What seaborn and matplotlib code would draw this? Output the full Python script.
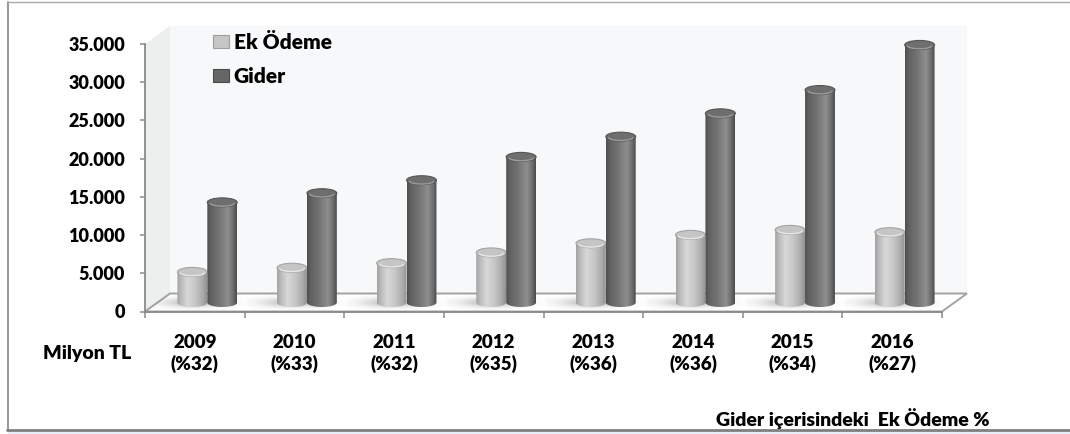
import numpy as np
import pandas as pd
import matplotlib
matplotlib.use("Agg")
import matplotlib.pyplot as plt
import seaborn as sns
from matplotlib.patches import Polygon, Ellipse, Rectangle, Patch, Arc
from matplotlib.colors import LinearSegmentedColormap
from matplotlib.lines import Line2D

# ---- data (million TL) ----
years = ["2009", "2010", "2011", "2012", "2013", "2014", "2015", "2016"]
shares = ["%32", "%33", "%32", "%35", "%36", "%36", "%34", "%27"]
ek_odeme = [4000, 4550, 5150, 6550, 7750, 8850, 9500, 9200]
gider = [13100, 14300, 16000, 19050, 21700, 24750, 27800, 33700]
series_names = ["Ek Ödeme", "Gider"]
y_ticks = [0, 5000, 10000, 15000, 20000, 25000, 30000, 35000]
y_tick_labels = ["0", "5.000", "10.000", "15.000", "20.000", "25.000", "30.000", "35.000"]
unit_label = "Milyon TL"
share_label = "Gider içerisindeki  Ek Ödeme %"

sns.set_theme(style="white")
plt.rcParams["font.family"] = ["Lato", "DejaVu Sans"]
plt.rcParams["text.color"] = "black"
WEIGHT = "heavy"

W, H = 1070, 434
fig = plt.figure(figsize=(W / 100, H / 100), dpi=100)
fig.patch.set_facecolor("white")


def fx(px):
    return px / W


def fy(py):
    return 1 - py / H


X0, X1, Y0, Y1 = 145, 942, 311.5, 44
ax = fig.add_axes([fx(X0), fy(Y0), (X1 - X0) / W, (Y0 - Y1) / H])
ax.patch.set_alpha(0)

n = len(years)
ymax = 35000
ux = n / (X1 - X0)          # category units per pixel
uy = ymax / (Y0 - Y1)       # value units per pixel
DX, DY = 25 * ux, 18 * uy   # oblique depth of the plot box

labels = [f"{y}\n({s})" for y, s in zip(years, shares)]
df = pd.DataFrame({
    "label": labels * 2,
    "series": [series_names[0]] * n + [series_names[1]] * n,
    "value": ek_odeme + gider,
})
sns.barplot(data=df, x="label", y="value", hue="series", order=labels,
            hue_order=series_names, palette=["#c4c4c4", "#6a6a6a"],
            width=0.6, saturation=1, legend=False, errorbar=None, ax=ax)

# ---- walls and floor ----
xl, xr = -0.5, n - 0.5
side = Polygon([(xl, 0), (xl + DX, DY), (xl + DX, ymax + DY), (xl, ymax)],
               facecolor="#edefee", edgecolor="none", zorder=0.1, clip_on=False)
back = Polygon([(xl + DX, DY), (xr + DX, DY), (xr + DX, ymax + DY), (xl + DX, ymax + DY)],
               facecolor="#f7f8fa", edgecolor="none", zorder=0.1, clip_on=False)
floor = Polygon([(xl, 0), (xr, 0), (xr + DX, DY), (xl + DX, DY)],
                facecolor="white", edgecolor="#a3a3a3", lw=1.4, zorder=0.3, clip_on=False,
                joinstyle="miter")
for p in (side, back, floor):
    ax.add_patch(p)

ek_cmap = LinearSegmentedColormap.from_list("ek", [
    (0.0, "#a0a0a0"), (0.12, "#b9b9b9"), (0.35, "#d8d8d8"),
    (0.62, "#c6c6c6"), (0.86, "#ababab"), (1.0, "#909090")])
gi_cmap = LinearSegmentedColormap.from_list("gi", [
    (0.0, "#4e4e4e"), (0.12, "#616161"), (0.4, "#737373"),
    (0.7, "#8e8e8e"), (0.87, "#6e6e6e"), (1.0, "#4a4a4a")])
styles = {
    series_names[0]: dict(cmap=ek_cmap, cap="#c5c5c5", rim="#a4a4a4", hl="#e8e8e8"),
    series_names[1]: dict(cmap=gi_cmap, cap="#6e6e6e", rim="#555555", hl="#9c9c9c"),
}

b = 4.5 * uy            # half height of the elliptical cap
grad = np.linspace(0, 1, 256)[None, :]


def floor_shadow(xc, z):
    xs = np.linspace(xc - 0.6, xc + 0.45, 160)
    ys = np.linspace(-9 * uy, 9 * uy, 40)
    gx, gy = np.meshgrid(xs, ys)
    a = 0.38 * np.exp(-((gx - (xc - 0.15)) / 0.30) ** 2 - (gy / (4.5 * uy)) ** 2)
    rgba = np.zeros(gx.shape + (4,))
    rgba[..., :3] = 0.35
    rgba[..., 3] = a
    im = ax.imshow(rgba, extent=[xs[0], xs[-1], ys[0] + DY / 2, ys[-1] + DY / 2],
                   origin="lower", aspect="auto", zorder=z, interpolation="bilinear")
    clip = Polygon([(xl, 0), (xr, 0), (xr + DX, DY), (xl + DX, DY)], transform=ax.transData)
    im.set_clip_path(clip)


def cylinder(x0, w, h, st, z):
    x0d = x0 + DX / 2
    xc = x0d + w / 2
    base = DY / 2
    t = np.linspace(0, np.pi, 50)
    arc_x = xc - (w / 2) * np.cos(t)
    arc_y = base - b * np.sin(t)
    verts = [(x0d, base + h)] + list(zip(arc_x, arc_y)) + [(x0d + w, base + h)]
    clip = Polygon(verts, closed=True, transform=ax.transData)
    im = ax.imshow(grad, cmap=st["cmap"], extent=[x0d, x0d + w, base - b, base + h],
                   aspect="auto", origin="lower", zorder=z, interpolation="bilinear")
    im.set_clip_box(fig.bbox)
    im.set_clip_path(clip)
    cap = Ellipse((xc, base + h), w, 2 * b, facecolor=st["cap"], edgecolor=st["rim"],
                  lw=0.8, zorder=z + 0.1, clip_on=False)
    ax.add_patch(cap)
    hl = Arc((xc, base + h - 0.15 * b), w * 0.82, 2 * b * 0.7, theta1=200, theta2=340,
             color=st["hl"], lw=1.0, zorder=z + 0.2, clip_on=False)
    ax.add_patch(hl)


for i in range(n):
    floor_shadow(i + DX / 2, 0.5)

rects = []
for name, container in zip(series_names, ax.containers):
    for rect in container:
        rects.append((rect.get_x(), name, rect))
rects.sort(key=lambda r: r[0])
z = 2
for x0, name, rect in rects:
    rect.set_visible(False)
    cylinder(rect.get_x(), rect.get_width(), rect.get_height(), styles[name], z)
    z += 0.5

# ---- axes ----
ax.set_xlim(xl, xr)
ax.set_ylim(0, ymax)
ax.set_xlabel("")
ax.set_ylabel("")
for s in ("top", "right"):
    ax.spines[s].set_visible(False)
for s in ("left", "bottom"):
    ax.spines[s].set_color("#8a8a8a")
    ax.spines[s].set_linewidth(1.3)
    ax.spines[s].set_zorder(1)

ax.set_yticks(y_ticks)
ax.set_yticklabels(y_tick_labels)
ax.tick_params(axis="y", left=True, length=3.8, width=1.1, color="#8a8a8a",
               pad=10.5, labelsize=13, labelcolor="black")
ax.set_xticks(range(n))
ax.set_xticklabels(labels)
ax.set_xticks(np.arange(-0.5, n, 1.0), minor=True)
ax.tick_params(axis="x", which="major", bottom=False, length=0, pad=16.5,
               labelsize=13.5, labelcolor="black")
ax.tick_params(axis="x", which="minor", bottom=True, length=4.3, width=1.1,
               color="#8a8a8a", direction="out")
for t in ax.get_xticklabels() + ax.get_yticklabels():
    t.set_fontweight(WEIGHT)
for t in ax.get_xticklabels():
    t.set_linespacing(1.25)

# ---- legend ----
handles = [Patch(facecolor="#c6c6c6", edgecolor="#9e9e9e", lw=0.8),
           Patch(facecolor="#666666", edgecolor="#4c4c4c", lw=0.8)]
fig.legend(handles, series_names, loc="upper left", bbox_to_anchor=(fx(213), fy(33)),
           frameon=False, prop={"weight": WEIGHT, "size": 15}, handlelength=0.75,
           handleheight=0.55, handletextpad=0.25, labelspacing=0.72,
           borderpad=0, borderaxespad=0)

fig.text(fx(87), fy(353), unit_label, ha="center", va="center",
         fontsize=14, fontweight=WEIGHT)
fig.text(fx(990), fy(419), share_label, ha="right", va="center",
         fontsize=14, fontweight=WEIGHT)

# ---- outer frame ----
fig.add_artist(Rectangle((fx(8), 0), 1 - fx(8), fy(430.5), transform=fig.transFigure,
                         facecolor="#e8eef7", edgecolor="none", zorder=0))
fig.add_artist(Line2D([fx(7.5), fx(7.5)], [fy(2), fy(429.5)], color="#9a9a9a", lw=1.5))
fig.add_artist(Line2D([fx(7), 1], [fy(2), fy(2)], color="#aaaaaa", lw=1.0))
fig.add_artist(Line2D([fx(7), 1], [fy(429.5), fy(429.5)], color="#7f7f7f", lw=2.0))

fig.savefig("out.png", dpi=100)
